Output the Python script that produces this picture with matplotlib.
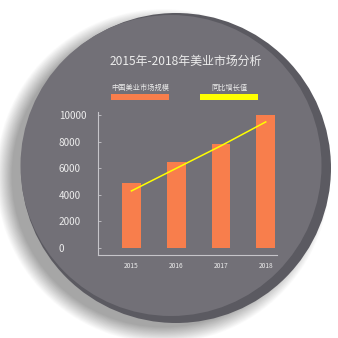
import matplotlib
matplotlib.use("Agg")
import matplotlib.pyplot as plt
import numpy as np
from matplotlib.patches import Circle, Rectangle

plt.rcParams['font.family'] = ['Noto Sans CJK SC', 'DejaVu Sans']

# data
years = ['2015', '2016', '2017', '2018']
market_size = [4900, 6500, 7800, 10000]
growth = [4300, 6000, 7700, 9500]
y_ticks = [0, 2000, 4000, 6000, 8000, 10000]

title = '2015年-2018年美业市场分析'
bar_label = '中国美业市场规模'
line_label = '同比增长值'

face_col = '#727077'
rim_col = '#5b5a61'
bar_col = '#f87e4c'
line_col = '#ffff00'
text_col = '#ececec'
axis_col = '#c6c5ca'

W = 338
fig = plt.figure(figsize=(W / 100, W / 100), dpi=100)
fig.patch.set_facecolor('white')

# background: shadow, rim and face of the disc (pixel coords)
bg = fig.add_axes([0, 0, 1, 1], zorder=0)
bg.set_xlim(0, W)
bg.set_ylim(W, 0)
bg.axis('off')
for extra in np.linspace(16, 0, 30):
    bg.add_patch(Circle((163, 176), 151 + extra, color='black', alpha=0.011, lw=0))
bg.add_patch(Circle((176, 168), 155, color=rim_col, lw=0))
bg.add_patch(Circle((171, 165.5), 150.5, color=face_col, lw=0))

# title and legend
bg.text(186, 61, title, color=text_col, fontsize=8.6, ha='center', va='center')
bg.text(140, 88, bar_label, color=text_col, fontsize=5.2, ha='center', va='center')
bg.add_patch(Rectangle((111, 94.3), 58.3, 5.7, color=bar_col, lw=0))
bg.text(230, 88, line_label, color=text_col, fontsize=5.2, ha='center', va='center')
bg.add_patch(Rectangle((200.3, 94.3), 58, 5.7, color=line_col, lw=0))

# main chart
left, right = 98.3, 276.7
top, bottom = 111.7, 255.3
ax = fig.add_axes([left / W, 1 - bottom / W, (right - left) / W, (bottom - top) / W], zorder=1)
ax.patch.set_alpha(0)

x = np.arange(len(years))
ax.bar(x, market_size, width=0.42, color=bar_col, zorder=2)
ax.plot(x, growth, color=line_col, lw=1.1, zorder=3)

ax.set_xlim(-0.74, 3.245)
ax.set_ylim(-550, 10270)
ax.set_xticks(x)
ax.set_xticklabels(years)
ax.set_yticks(y_ticks)
ax.set_yticklabels([str(v) for v in y_ticks])

for s in ['top', 'right']:
    ax.spines[s].set_visible(False)
for s in ['left', 'bottom']:
    ax.spines[s].set_color(axis_col)
    ax.spines[s].set_linewidth(0.8)

ax.tick_params(axis='x', length=0, pad=4.5, labelsize=4.8, labelcolor=text_col)
ax.tick_params(axis='y', direction='in', length=2, width=0.6, color=axis_col,
               pad=28.3, labelsize=7.2, labelcolor=text_col)
for lbl in ax.get_yticklabels():
    lbl.set_horizontalalignment('left')

fig.savefig('out.png', dpi=100, facecolor='white')
